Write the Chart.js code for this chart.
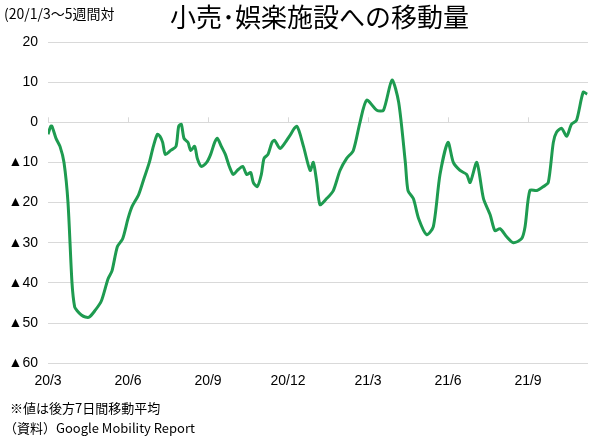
<!DOCTYPE html>
<html><head><meta charset="utf-8">
<script src="https://cdn.jsdelivr.net/npm/chart.js@4"></script>
<style>
body{margin:0;background:#fff;font-family:"Noto Sans CJK JP",sans-serif;}
#wrap{position:relative;width:600px;height:448px;}
canvas{position:absolute;left:0;top:0;}
.t{position:absolute;white-space:nowrap;color:#000;}
</style></head><body>
<div id="wrap">
<canvas id="c" width="600" height="448"></canvas>
<div class="t" style="left:4px;top:3px;font-size:14px;">(20/1/3～5週間対</div>
<div class="t" style="left:170px;top:-3px;font-size:26px;">小売･娯楽施設への移動量</div>
<div class="t" style="left:10px;top:398px;font-size:13px;">※値は後方7日間移動平均</div>
<div class="t" style="left:4px;top:418px;font-size:13px;">（資料）Google Mobility Report</div>
</div>
<script>
const xMonths=[0,0.1,0.15,0.3,0.45,0.6,0.75,0.9,1.0,1.1,1.25,1.4,1.55,1.75,2.0,2.25,2.4,2.6,2.8,3.0,3.15,3.4,3.6,3.8,3.95,4.1,4.2,4.3,4.4,4.6,4.8,4.9,5.0,5.1,5.25,5.35,5.5,5.6,5.75,5.95,6.1,6.25,6.35,6.5,6.65,6.8,6.95,7.1,7.3,7.45,7.6,7.7,7.85,8.0,8.1,8.25,8.4,8.5,8.7,8.9,9.05,9.33,9.58,9.83,9.95,10.08,10.2,10.45,10.7,10.95,11.2,11.45,11.7,11.95,12.33,12.58,12.9,13.15,13.4,13.5,13.7,13.9,14.2,14.45,14.7,15.0,15.2,15.45,15.7,15.83,16.08,16.33,16.58,16.76,16.95,17.2,17.45,17.76,17.89,18.07,18.33,18.58,18.76,18.95,19.07,19.26,19.45,19.63,19.82,20.07,20.22];
const values=[-3,-1,-1,-4,-6,-10,-20,-40,-46,-47,-48,-48.5,-48.5,-47,-44.5,-39,-37,-31,-29,-24,-21,-18,-14,-10,-6,-3,-3.5,-5,-8,-7,-6,-1,-0.5,-4,-5,-7,-6,-9,-11,-10,-8,-5,-4,-6,-8,-11,-13,-12,-11,-13,-12.5,-15,-16,-13,-9,-8,-5,-4.5,-6.5,-5,-3.5,-1,-6,-12,-10,-15,-20.5,-19,-17,-12,-9,-7,0,5.5,3,3,10.5,5,-10,-17,-19,-24,-28,-26,-13,-5,-10,-12,-13,-15,-10,-19,-23,-27,-26.5,-28.5,-30,-29,-26,-17,-17,-16,-15,-5,-2.5,-1.5,-3.5,-0.5,0.5,7.5,7];
const tickMonths=[0,3,6,9,12,15,18];
const tickLabels=['20/3','20/6','20/9','20/12','21/3','21/6','21/9'];
const zeroTicks={id:'zt',afterDatasetsDraw(ch){const x=ch.scales.x,y=ch.scales.y,c=ch.ctx;c.save();c.strokeStyle='#d9d9d9';c.lineWidth=1;const y0=y.getPixelForValue(0);tickMonths.forEach(m=>{const px=Math.round(x.getPixelForValue(m))+0.5;c.beginPath();c.moveTo(px,y0-5);c.lineTo(px,y0);c.stroke();});c.restore();}};
new Chart(document.getElementById('c'),{type:'line',
data:{datasets:[{data:xMonths.map((m,i)=>({x:m,y:values[i]})),borderColor:'#1e9b50',borderWidth:3,pointRadius:0,tension:0.25}]},
options:{responsive:false,animation:false,
layout:{padding:{top:42,right:12,bottom:56,left:0}},
plugins:{legend:{display:false},tooltip:{enabled:false}},
scales:{
x:{type:'linear',min:0,max:20.25,grid:{display:false},border:{display:false},
afterBuildTicks(s){s.ticks=tickMonths.map(v=>({value:v}));},
ticks:{color:'#000',font:{size:14,family:'Liberation Sans'},maxRotation:0,padding:2,callback:(v)=>tickLabels[tickMonths.indexOf(v)]}},
y:{min:-60,max:20,afterFit(s){s.width=48;},grid:{color:'#d9d9d9',drawTicks:false},border:{display:false},
ticks:{stepSize:10,color:'#000',padding:10,font:{size:14,family:'Liberation Sans'},callback:v=>v<0?'▲'+(-v):String(v)}}
}},plugins:[zeroTicks]});
</script></body></html>
